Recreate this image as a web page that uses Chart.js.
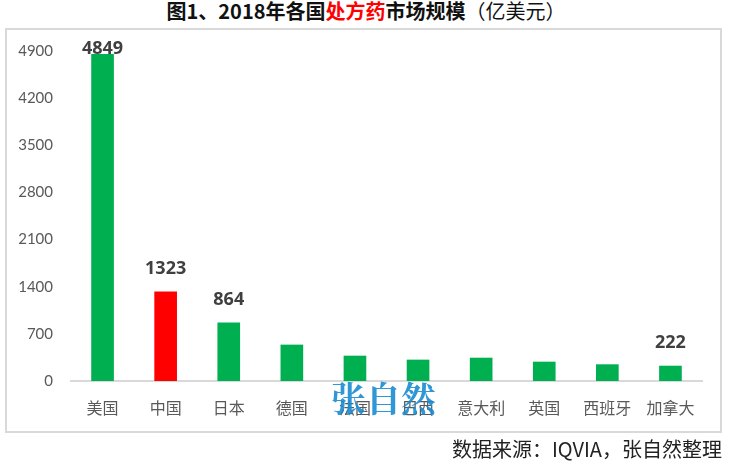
<!DOCTYPE html>
<html lang="zh">
<head>
  <meta charset="UTF-8">
  <title>2018年各国处方药市场规模</title>
  <script src="https://cdn.jsdelivr.net/npm/chart.js"></script>
  <style>
    body { margin: 0; background: #fff; }
    .wrap { position: relative; width: 732px; height: 465px; overflow: hidden; }
    .title {
      position: absolute; left: 0; width: 732px; top: -4px; text-align: center;
      font: bold 20px "Noto Sans CJK SC", sans-serif; color: #111; white-space: nowrap;
    }
    .title .red { color: #ff0000; }
    .title .thin { font-weight: normal; }
    .frame {
      position: absolute; left: 5px; top: 28px; width: 713px; height: 401px;
      border: 2px solid #d9d9d9;
    }
    .source {
      position: absolute; right: 10px; top: 434px;
      font: 20px "Noto Sans CJK SC", sans-serif; color: #222; white-space: nowrap;
    }
    .mark {
      position: absolute; left: 331px; top: 372px;
      font: bold 35px "Noto Serif CJK SC", "Noto Sans CJK SC", serif; color: rgba(25,140,210,0.9);
      white-space: nowrap;
    }
    canvas { position: absolute; left: 0; top: 0; }
  </style>
</head>
<body>
  <div class="wrap">
    <div class="frame"></div>
    <div class="title">图1、2018年各国<span class="red">处方药</span>市场规模<span class="thin">（亿美元）</span></div>
    <canvas id="chart" width="732" height="465"></canvas>
    <div class="mark">张自然</div>
    <div class="source">数据来源：IQVIA，张自然整理</div>
  </div>

  <script>
    // data
    const countries = ['美国', '中国', '日本', '德国', '法国', '巴西', '意大利', '英国', '西班牙', '加拿大'];
    const marketSize = [4849, 1323, 864, 535, 371, 312, 341, 282, 243, 222];
    const barColors = ['#00b050', '#ff0000', '#00b050', '#00b050', '#00b050', '#00b050', '#00b050', '#00b050', '#00b050', '#00b050'];
    const labelled = [0, 1, 2, 9]; // only these bars carry a value label
    const yMax = 4900;
    const yStep = 700;

    // value labels above selected bars
    const valueLabels = {
      id: 'valueLabels',
      afterDatasetsDraw(chart) {
        const c = chart.ctx;
        const meta = chart.getDatasetMeta(0);
        c.save();
        c.font = 'bold 18px "Open Sans", sans-serif';
        c.fillStyle = '#404040';
        c.textAlign = 'center';
        c.textBaseline = 'middle';
        labelled.forEach(i => {
          const bar = meta.data[i];
          const y = Math.max(bar.y - 23, chart.chartArea.top - 2);
          c.fillText(String(marketSize[i]), bar.x, y);
        });
        c.restore();
      }
    };

    new Chart(document.getElementById('chart'), {
      type: 'bar',
      data: {
        labels: countries,
        datasets: [{
          data: marketSize,
          backgroundColor: barColors,
          barThickness: 22
        }]
      },
      options: {
        responsive: false,
        animation: false,
        layout: { padding: { top: 51, right: 30, bottom: 0, left: 0 } },
        plugins: { legend: { display: false }, tooltip: { enabled: false } },
        scales: {
          x: {
            grid: { display: false },
            border: { display: true, color: '#d9d9d9', width: 2 },
            ticks: { color: '#595959', padding: 9, font: { family: '"Noto Sans CJK SC", sans-serif', size: 16 } },
            afterFit(scale) { scale.height = 84; }
          },
          y: {
            min: 0,
            max: yMax,
            grid: { display: false, drawTicks: false },
            border: { display: false },
            ticks: {
              stepSize: yStep, color: '#595959', padding: 18,
              font: { family: 'Lato, sans-serif', size: 15 },
              callback: v => String(v)
            },
            afterFit(scale) { scale.width = 71; }
          }
        }
      },
      plugins: [valueLabels]
    });
  </script>
</body>
</html>
